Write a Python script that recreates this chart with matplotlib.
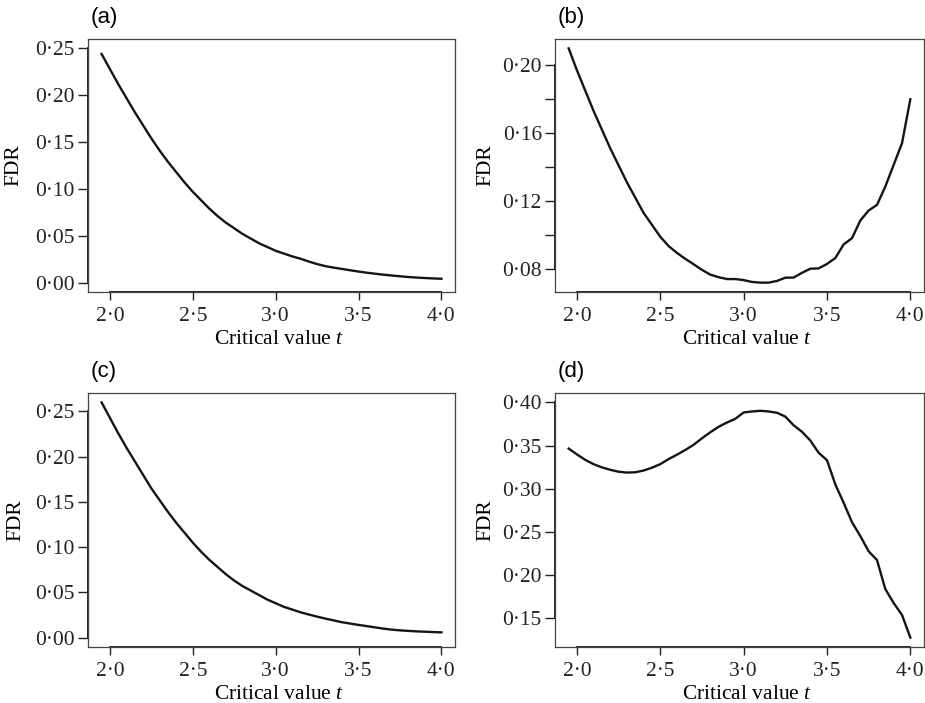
import matplotlib
matplotlib.use('Agg')
import matplotlib.pyplot as plt
import numpy as np

# critical value grid (same for all four panels)
t_vals = [1.95, 2.00, 2.05, 2.10, 2.15, 2.20, 2.25, 2.30, 2.35, 2.40,
          2.45, 2.50, 2.55, 2.60, 2.65, 2.70, 2.75, 2.80, 2.85, 2.90,
          2.95, 3.00, 3.05, 3.10, 3.15, 3.20, 3.25, 3.30, 3.35, 3.40,
          3.45, 3.50, 3.55, 3.60, 3.65, 3.70, 3.75, 3.80, 3.85, 3.90,
          3.95, 4.00]

fdr_a = [0.244, 0.228, 0.212, 0.197, 0.182, 0.168, 0.154, 0.141, 0.129, 0.118,
         0.107, 0.097, 0.088, 0.079, 0.071, 0.064, 0.058, 0.052, 0.047, 0.042,
         0.038, 0.034, 0.031, 0.028, 0.0255, 0.0225, 0.0198, 0.0176, 0.0160, 0.0146,
         0.0132, 0.0118, 0.0106, 0.0095, 0.0085, 0.0076, 0.0068, 0.006, 0.0054, 0.0049,
         0.0045, 0.0041]

fdr_b = [0.210, 0.197, 0.185, 0.173, 0.162, 0.151, 0.141, 0.131, 0.122, 0.113,
         0.106, 0.099, 0.0935, 0.0895, 0.0860, 0.0828, 0.0795, 0.0767, 0.0752, 0.0741,
         0.0741, 0.0735, 0.0724, 0.0720, 0.0720, 0.0730, 0.0749, 0.0750, 0.0778, 0.0802,
         0.0804, 0.0830, 0.0865, 0.0945, 0.0982, 0.1086, 0.1145, 0.1178, 0.1286, 0.1414,
         0.1541, 0.1800]

fdr_c = [0.260, 0.243, 0.226, 0.210, 0.195, 0.180, 0.165, 0.152, 0.139, 0.127,
         0.116, 0.105, 0.095, 0.086, 0.078, 0.070, 0.063, 0.057, 0.052, 0.047,
         0.042, 0.038, 0.034, 0.031, 0.028, 0.0255, 0.0232, 0.021, 0.019, 0.017,
         0.0155, 0.014, 0.0127, 0.0113, 0.0099, 0.0088, 0.0080, 0.0074, 0.0069, 0.0065,
         0.0061, 0.0058]

fdr_d = [0.3466, 0.3398, 0.3335, 0.3285, 0.3248, 0.3220, 0.3198, 0.3188, 0.3192, 0.3212,
         0.3245, 0.3286, 0.3345, 0.3395, 0.3450, 0.3510, 0.3585, 0.3655, 0.3718, 0.3768,
         0.3810, 0.3884, 0.3895, 0.3903, 0.3895, 0.3880, 0.3836, 0.3735, 0.3660, 0.3559,
         0.3417, 0.3331, 0.3051, 0.2838, 0.2614, 0.2453, 0.2277, 0.2176, 0.1840, 0.1679,
         0.1541, 0.1279]

x_ticks = [2.0, 2.5, 3.0, 3.5, 4.0]
yticks_a = [0.00, 0.05, 0.10, 0.15, 0.20, 0.25]
yticks_b = [0.08, 0.10, 0.12, 0.14, 0.16, 0.18, 0.20]
ylabels_b = ['0·08', '', '0·12', '', '0·16', '', '0·20']
yticks_c = [0.00, 0.05, 0.10, 0.15, 0.20, 0.25]
yticks_d = [0.15, 0.20, 0.25, 0.30, 0.35, 0.40]

panel_tags = ['(a)', '(b)', '(c)', '(d)']

SERIF = 'Liberation Serif'
SANS = 'Liberation Sans'
FS = 15.5

plt.rcParams['mathtext.fontset'] = 'custom'
plt.rcParams['mathtext.rm'] = 'Liberation Serif'
plt.rcParams['mathtext.it'] = 'Liberation Serif:italic'


def dotfmt(v, nd):
    return f'{v:.{nd}f}'.replace('.', '·')


fig = plt.figure(figsize=(9.25, 7.03), dpi=100)
W, H = 925.0, 703.0
# axes boxes in pixels: left, top, right, bottom
boxes = [(88, 39, 455, 292), (555, 39, 924, 292),
         (88, 393, 455, 647), (555, 393, 924, 647)]
series = [fdr_a, fdr_b, fdr_c, fdr_d]
ytick_sets = [yticks_a, yticks_b, yticks_c, yticks_d]
ylab_sets = [[dotfmt(v, 2) for v in yticks_a], ylabels_b,
             [dotfmt(v, 2) for v in yticks_c], [dotfmt(v, 2) for v in yticks_d]]
fdr_x = [23, 495, 25, 495]

for k in range(4):
    l, t, r, b = boxes[k]
    ax = fig.add_axes([l/W, (H-b)/H, (r-l)/W, (b-t)/H])
    ax.plot(t_vals, series[k], color='#151515', lw=1.7)
    ax.margins(x=0.04, y=0.04)

    ax.set_xticks(x_ticks)
    ax.set_xticklabels([dotfmt(v, 1) for v in x_ticks], fontfamily=SERIF, fontsize=FS)
    ax.set_yticks(ytick_sets[k])
    ax.set_yticklabels(ylab_sets[k], fontfamily=SERIF, fontsize=FS)
    ax.tick_params(axis='x', direction='out', length=6, width=1.0, pad=5, colors='#222222')
    ax.tick_params(axis='y', direction='out', length=7.5, width=1.0, pad=2, colors='#222222')

    for s in ax.spines.values():
        s.set_color('#444444')
        s.set_linewidth(0.9)

    # R style axis lines between first and last tick
    ax.plot([x_ticks[0], x_ticks[-1]], [0, 0], color='#111111', lw=1.3,
            transform=ax.get_xaxis_transform(), clip_on=False)
    yt = ytick_sets[k]
    ax.plot([0, 0], [yt[0], yt[-1]], color='#111111', lw=1.3,
            transform=ax.get_yaxis_transform(), clip_on=False)

    ax.set_xlabel('Critical value $\\it{t}$', fontfamily=SERIF, fontsize=FS, va='baseline')
    ax.xaxis.set_label_coords(0.52, -52/(b-t))
    ax.set_ylabel('FDR', fontfamily=SERIF, fontsize=FS)
    ax.yaxis.set_label_coords((fdr_x[k]-l)/(r-l), 0.5)

    ax.text(3/(r-l), 1 + 16/(b-t), panel_tags[k], transform=ax.transAxes,
            fontfamily=SANS, fontsize=16, ha='left', va='baseline')

plt.savefig('out.png', dpi=100)
